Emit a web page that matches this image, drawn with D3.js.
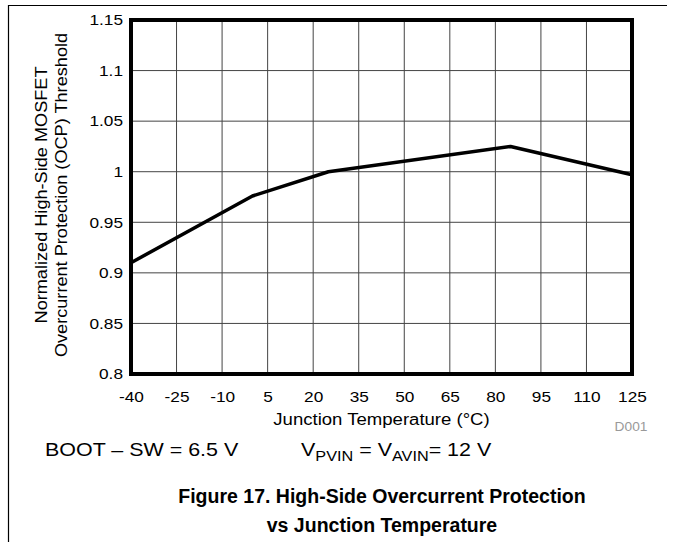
<!DOCTYPE html>
<html>
<head>
<meta charset="utf-8">
<script src="https://cdn.jsdelivr.net/npm/d3@7"></script>
<style>
  body { margin: 0; background: #fff; }
  svg text { font-family: "Liberation Sans", Arial, sans-serif; fill: #000; }
</style>
</head>
<body>
<div id="chart"></div>
<script>
// ==============================
// DATA
// ==============================

// Junction temperature (°C) and normalized OCP threshold
const temps = [-40, 0, 25, 85, 125];
const ocpValues = [0.91, 0.976, 1.0, 1.025, 0.997];

// Tick labels
const xTicks = [-40, -25, -10, 5, 20, 35, 50, 65, 80, 95, 110, 125];
const yTicks = [0.8, 0.85, 0.9, 0.95, 1, 1.05, 1.1, 1.15];

// ==============================
// SVG SETUP
// ==============================

const width = 676;
const height = 542;

// plot box inside the page
const plot = { left: 131, right: 632, top: 20, bottom: 374 };

// the datasheet text is drawn a bit wider than plain Arial
const stretch = 1.15;

const svg = d3.select("#chart")
  .append("svg")
  .attr("width", width)
  .attr("height", height);

// page frame lines (top rule and left rule of the datasheet page)
svg.append("line")
  .attr("x1", 8).attr("x2", 667)
  .attr("y1", 5.5).attr("y2", 5.5)
  .attr("stroke", "#000").attr("stroke-width", 1.2);
svg.append("line")
  .attr("x1", 8.5).attr("x2", 8.5)
  .attr("y1", 5).attr("y2", height)
  .attr("stroke", "#000").attr("stroke-width", 1.2);

// helper: text placed at (x, y), stretched horizontally
function addText(x, y, size, anchor, sx) {
  return svg.append("text")
    .attr("transform", `translate(${x}, ${y}) scale(${sx}, 1)`)
    .attr("text-anchor", anchor)
    .attr("font-size", size);
}

// ==============================
// SCALES
// ==============================

const x = d3.scaleLinear()
  .domain([-40, 125])
  .range([plot.left, plot.right]);

const y = d3.scaleLinear()
  .domain([0.8, 1.15])
  .range([plot.bottom, plot.top]);

// ==============================
// GRID
// ==============================

const grid = svg.append("g").attr("stroke", "#444").attr("stroke-width", 1);

grid.selectAll(".vgrid")
  .data(xTicks)
  .enter()
  .append("line")
  .attr("x1", d => x(d)).attr("x2", d => x(d))
  .attr("y1", plot.top).attr("y2", plot.bottom);

grid.selectAll(".hgrid")
  .data(yTicks)
  .enter()
  .append("line")
  .attr("x1", plot.left).attr("x2", plot.right)
  .attr("y1", d => y(d)).attr("y2", d => y(d));

// ==============================
// AXES (labels only, no tick marks)
// ==============================

const xAxis = d3.axisBottom(x)
  .tickValues(xTicks)
  .tickSize(0)
  .tickPadding(17)
  .tickFormat(d => String(d));   // plain hyphen, like the datasheet

svg.append("g")
  .attr("transform", `translate(0, ${plot.bottom})`)
  .call(xAxis)
  .call(g => g.select(".domain").remove())
  .selectAll("text")
  .attr("font-size", 15)
  .attr("font-family", "Liberation Sans, Arial, sans-serif")
  .attr("transform", `scale(${stretch}, 1)`);

const yAxis = d3.axisLeft(y)
  .tickValues(yTicks)
  .tickSize(0)
  .tickFormat(d => String(+d.toFixed(2)));

svg.append("g")
  .attr("transform", `translate(${plot.left}, 0)`)
  .call(yAxis)
  .call(g => g.select(".domain").remove())
  .selectAll("text")
  .attr("font-size", 15)
  .attr("font-family", "Liberation Sans, Arial, sans-serif")
  .attr("x", -8 / stretch)
  .attr("transform", `scale(${stretch}, 1)`);

// thick plot border
svg.append("rect")
  .attr("x", plot.left)
  .attr("y", plot.top)
  .attr("width", plot.right - plot.left)
  .attr("height", plot.bottom - plot.top)
  .attr("fill", "none")
  .attr("stroke", "#000")
  .attr("stroke-width", 4);

// ==============================
// DATA LINE
// ==============================

const line = d3.line()
  .x((d, i) => x(temps[i]))
  .y(d => y(d));

svg.append("path")
  .datum(ocpValues)
  .attr("d", line)
  .attr("fill", "none")
  .attr("stroke", "#000")
  .attr("stroke-width", 3.5)
  .attr("stroke-linejoin", "round");

// ==============================
// TITLES & ANNOTATIONS
// ==============================

// y-axis title (two lines, rotated)
const yTitle = svg.append("text")
  .attr("transform", "translate(47, 195) rotate(-90) scale(1.1, 1)")
  .attr("text-anchor", "middle")
  .attr("font-size", 16.5);
yTitle.append("tspan").attr("x", 0).attr("y", 0).text("Normalized High-Side MOSFET");
yTitle.append("tspan").attr("x", 0).attr("y", 20).text("Overcurrent Protection (OCP) Threshold");

// x-axis title
addText((plot.left + plot.right) / 2, 425, 16, "middle", 1.16)
  .text("Junction Temperature (°C)");

// graph id
addText(631, 431, 12.5, "middle", 1.1)
  .style("fill", "#999")
  .text("D001");

// test conditions
addText(45, 456, 18.5, "start", 1.16)
  .text("BOOT – SW = 6.5 V");

const cond = addText(301, 456, 18.5, "start", 1.16);
cond.append("tspan").text("V");
cond.append("tspan").attr("dy", 5).attr("font-size", 14).text("PVIN");
cond.append("tspan").attr("dy", -5).text(" = V");
cond.append("tspan").attr("dy", 5).attr("font-size", 14).text("AVIN");
cond.append("tspan").attr("dy", -5).text("= 12 V");

// figure caption
const caption = svg.append("text")
  .attr("text-anchor", "middle")
  .attr("font-size", 19.5)
  .attr("font-weight", "bold");
caption.append("tspan").attr("x", 382).attr("y", 503).text("Figure 17. High-Side Overcurrent Protection");
caption.append("tspan").attr("x", 382).attr("y", 532).text("vs Junction Temperature");
</script>
</body>
</html>
